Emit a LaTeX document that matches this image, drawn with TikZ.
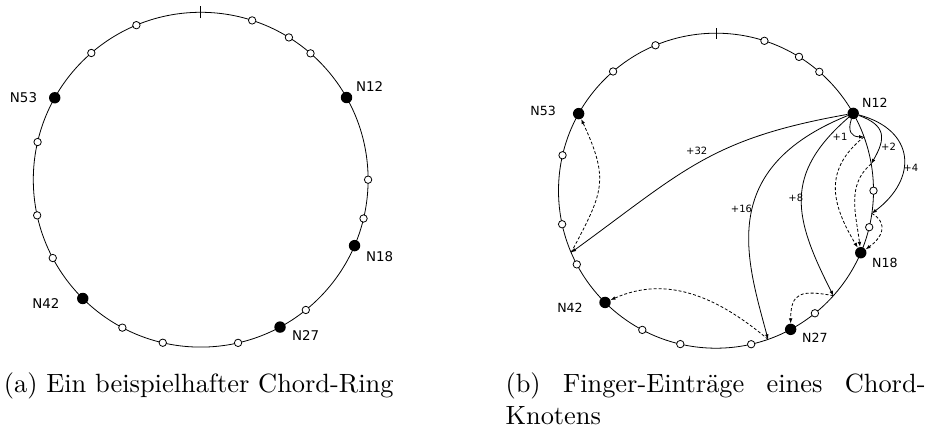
\documentclass[tikz,border=0pt]{standalone}
\usepackage{fontspec}
\newfontfamily\labelfont{DejaVu Sans}
\usetikzlibrary{arrows.meta}
\begin{document}
\begin{tikzpicture}[x=1pt,y=1pt,
  ring/.style={line width=0.8pt},
  openpeer/.style={circle, draw, fill=white, line width=0.8pt, minimum size=7.4pt, inner sep=0pt},
  peer/.style={circle, fill=black, minimum size=11.4pt, inner sep=0pt},
  tagL/.style={font=\labelfont\fontsize{13.4}{16}\selectfont, inner sep=0pt},
  tagR/.style={font=\labelfont\fontsize{12.6}{15}\selectfont, inner sep=0pt},
  finger/.style={line width=0.8pt, -{Latex[length=5pt,width=3.6pt]}},
  succ/.style={line width=0.8pt, dash pattern=on 3pt off 2pt, -{Latex[length=5pt,width=3.6pt]}},
  fingertag/.style={font=\labelfont\fontsize{10}{12}\selectfont, inner sep=0pt},
  captext/.style={anchor=base west, inner sep=0pt, scale=2.64, font=\fontsize{10}{12}\selectfont}
]
\useasboundingbox (0,0) rectangle (932,431);

% ---------- (a) the ring ----------
\begin{scope}[shift={(200.7,251.3)}]
  \draw[ring] (0,0) circle (167.4);
  \coordinate (tickL) at (0,167.4);
  \draw[ring] (tickL) ++(0,-6) -- ++(0,12);
  \foreach \a [count=\i] in {112.6,130.8,167,192.3,207.9,242.1,256.9,282.9,308.9,346.6,0,49,58.2,72.1}
    \node[openpeer] (Lo\i) at (\a:167.4) {};
  \node[peer] (L53) at (150.7:167.4) {};
  \node[peer] (L42) at (225.2:167.4) {};
  \node[peer] (L27) at (298.3:167.4) {};
  \node[peer] (L18) at (336.8:167.4) {};
  \node[peer] (L12) at (29.4:167.4) {};
\end{scope}
\node[tagL] (tL53) at (23.5,333.5) {N53};
\node[tagL] (tL12) at (369.7,344) {N12};
\node[tagL] (tL18) at (379.7,174.2) {N18};
\node[tagL] (tL42) at (45.8,127) {N42};
\node[tagL] (tL27) at (305.7,95) {N27};

% ---------- (b) finger table of N12 ----------
\begin{scope}[shift={(716,240.3)}]
  \draw[ring] (0,0) circle (157.5);
  \coordinate (tickR) at (0,157.5);
  \draw[ring] (tickR) ++(0,-5.6) -- ++(0,11.2);
  \foreach \a [count=\i] in {112.6,130.8,167,192.3,207.9,242.1,256.9,282.9,308.9,346.6,0,49,58.2,72.1}
    \node[openpeer] (Ro\i) at (\a:157.5) {};
  \node[peer] (R53) at (150.7:157.5) {};
  \node[peer] (R42) at (225.2:157.5) {};
  \node[peer] (R27) at (298.3:157.5) {};
  \node[peer] (R18) at (336.8:157.5) {};
  \node[peer] (R12) at (29.4:157.5) {};
  \coordinate (f1) at (20:157.5);
  \coordinate (f2) at (9.8:157.5);
  \coordinate (f4) at (-8.3:157.5);
  \coordinate (f8) at (-41.8:157.5);
  \coordinate (f16) at (-70.7:157.5);
  \coordinate (f32) at (203.1:157.5);
\end{scope}
\node[tagR] (tR53) at (543.2,320.5) {N53};
\node[tagR] (tR12) at (874.8,328) {N12};
\node[tagR] (tR18) at (884.8,168) {N18};
\node[tagR] (tR42) at (570,123.5) {N42};
\node[tagR] (tR27) at (814.8,93) {N27};

% finger entries
\draw[finger] (R12) to[out=190,in=36,looseness=1.15] (f32);
\draw[finger] (R12) to[out=202,in=105,out looseness=1.53,in looseness=0.9] (f16);
\draw[finger] (R12) to[out=221,in=117,looseness=1.25] (f8);
\draw[finger] (R12) to[out=252,in=180,looseness=1.5] (f1);
\draw[finger] (R12) to[out=-20,in=60,looseness=1.5] (f2);
\draw[finger] (R12) to[out=-15,in=37,looseness=1.5] (f4);

% successors of the finger targets
\draw[succ] (f1) to[out=219,in=121,looseness=1.2] (R18);
\draw[succ] (f2) to[out=220,in=97] (R18);
\draw[succ] (f4) to[out=-30,in=35,looseness=1.4] (R18);
\draw[succ] (f8) to[out=170,in=90,looseness=1.6] (R27);
\draw[succ] (f16) to[out=140,in=24] (R42);
\draw[succ] (f32) to[out=62,in=-65,looseness=1.3] (R53);

\node[fingertag] (t32) at (696.7,280.3) {+32};
\node[fingertag] (t16) at (741.5,222) {+16};
\node[fingertag] (t8) at (795.8,232.7) {+8};
\node[fingertag] (t1) at (840,294.3) {+1};
\node[fingertag] (t2) at (888.5,284.3) {+2};
\node[fingertag] (t4) at (910.8,263.5) {+4};

% captions
\node[captext] (capA) at (3.3,38.7) {(a) Ein beispielhafter Chord-Ring};
\node[captext] (capB) at (505,38.7) {\makebox[159.1pt][s]{(b) Finger-Einträge eines Chord-}};
\node[captext] (capB2) at (505,6) {Knotens};
\end{tikzpicture}
\end{document}
